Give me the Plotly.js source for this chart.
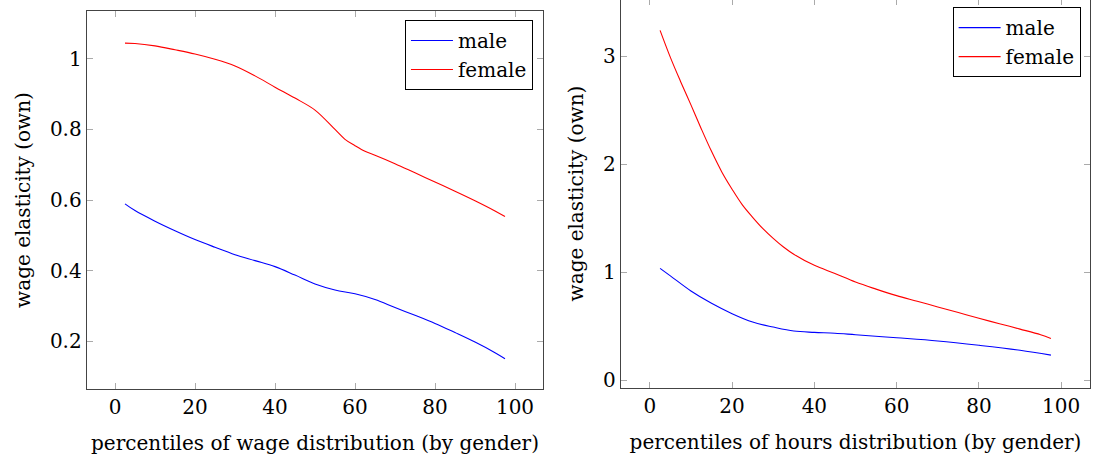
<!DOCTYPE html>
<html>
<head>
<meta charset="utf-8">
<script src="https://cdn.plot.ly/plotly-3.0.1.min.js"></script>
<style>
  html, body { margin: 0; padding: 0; background: #fff; }
  body { width: 1094px; height: 461px; position: relative; overflow: hidden; }
  #left { position: absolute; left: 0; top: 0; width: 550px; height: 461px; }
  #right { position: absolute; left: 550px; top: -1px; width: 544px; height: 462px; }
</style>
</head>
<body>
<div id="left"></div>
<div id="right"></div>
<script>
// ---- Left chart: wage distribution ----
const wageMaleX = [2.5, 5, 10, 15, 20, 25, 30, 35, 40, 45, 50, 55, 60, 65, 70, 75, 80, 85, 90, 95, 97.5];
const wageMaleY = [0.589, 0.570, 0.540, 0.513, 0.488, 0.466, 0.445, 0.428, 0.411, 0.387, 0.362, 0.345, 0.334, 0.318, 0.295, 0.273, 0.250, 0.224, 0.197, 0.167, 0.150];
const wageFemaleX = [2.5, 5, 10, 15, 20, 25, 30, 35, 40, 45, 50, 55, 57.5, 60, 62.5, 65, 70, 75, 80, 85, 90, 95, 97.5];
const wageFemaleY = [1.045, 1.044, 1.037, 1.026, 1.014, 0.999, 0.980, 0.952, 0.920, 0.889, 0.855, 0.800, 0.772, 0.754, 0.738, 0.727, 0.703, 0.677, 0.651, 0.625, 0.598, 0.569, 0.553];

// ---- Right chart: hours distribution ----
const hoursMaleX = [2.5, 5, 10, 15, 20, 25, 30, 35, 40, 45, 50, 60, 70, 80, 90, 97.5];
const hoursMaleY = [1.037, 0.968, 0.828, 0.714, 0.618, 0.540, 0.494, 0.457, 0.445, 0.437, 0.423, 0.395, 0.365, 0.325, 0.279, 0.234];
const hoursFemaleX = [2.5, 5, 7.5, 10, 12.5, 15, 17.5, 20, 22.5, 25, 27.5, 30, 32.5, 35, 40, 45, 50, 55, 60, 65, 70, 75, 80, 85, 90, 95, 97.5];
const hoursFemaleY = [3.24, 2.99, 2.765, 2.55, 2.33, 2.12, 1.93, 1.77, 1.625, 1.51, 1.405, 1.315, 1.235, 1.168, 1.065, 0.99, 0.91, 0.845, 0.785, 0.733, 0.68, 0.628, 0.575, 0.525, 0.475, 0.423, 0.389];

// ---- Tick labels ----
const xTickVals = [0, 20, 40, 60, 80, 100];
const xTickText = ["0", "20", "40", "60", "80", "100"];
const wageYTickVals = [0.2, 0.4, 0.6, 0.8, 1];
const wageYTickText = ["0.2", "0.4", "0.6", "0.8", "1"];
const hoursYTickVals = [0, 1, 2, 3];
const hoursYTickText = ["0", "1", "2", "3"];

const seriesNames = ["male", "female"];
const FONT = "DejaVu Serif";
const FS = 20;

function axisBase() {
  return {
    showline: true, linecolor: "#444", linewidth: 1.3, mirror: "ticks",
    ticks: "inside", ticklen: 6, tickcolor: "#aaa", tickwidth: 1,
    showgrid: false, zeroline: false,
    tickfont: { family: FONT, size: FS, color: "#000" },
    automargin: false
  };
}

function makeTraces(mx, my, fx, fy) {
  return [
    { x: mx, y: my, type: "scatter", mode: "lines", name: seriesNames[0],
      line: { color: "#0000ff", width: 1.1, shape: "spline", smoothing: 1 } },
    { x: fx, y: fy, type: "scatter", mode: "lines", name: seriesNames[1],
      line: { color: "#ff0000", width: 1.1, shape: "spline", smoothing: 1 } }
  ];
}

function legendAt(x, y) {
  return {
    x: x, y: y, xanchor: "right", yanchor: "top",
    bgcolor: "#fff", bordercolor: "#000", borderwidth: 1,
    itemwidth: 42,
    font: { family: FONT, size: FS, color: "#000" }
  };
}

const leftLayout = {
  width: 550, height: 461,
  margin: { l: 87, r: 7, t: 11, b: 72 },
  paper_bgcolor: "#fff", plot_bgcolor: "#fff",
  font: { family: FONT, size: FS, color: "#000" },
  xaxis: Object.assign(axisBase(), {
    range: [-7, 107], tickvals: xTickVals, ticktext: xTickText,
    title: { text: "percentiles of wage distribution (by gender)", font: { family: FONT, size: FS }, standoff: 17 }
  }),
  yaxis: Object.assign(axisBase(), {
    range: [0.064, 1.136], tickvals: wageYTickVals, ticktext: wageYTickText,
    title: { text: "wage elasticity (own)", font: { family: FONT, size: FS }, standoff: 14 }
  }),
  showlegend: true,
  legend: legendAt(0.978, 0.976)
};

const rightLayout = {
  width: 544, height: 462,
  margin: { l: 71, r: 4, t: 0, b: 73 },
  paper_bgcolor: "rgba(0,0,0,0)", plot_bgcolor: "#fff",
  font: { family: FONT, size: FS, color: "#000" },
  xaxis: Object.assign(axisBase(), {
    range: [-7, 107], tickvals: xTickVals, ticktext: xTickText,
    title: { text: "percentiles of hours distribution (by gender)", font: { family: FONT, size: FS }, standoff: 17 }
  }),
  yaxis: Object.assign(axisBase(), {
    range: [-0.07, 3.53], tickvals: hoursYTickVals, ticktext: hoursYTickText,
    title: { text: "wage elasticity (own)", font: { family: FONT, size: FS }, standoff: 14 }
  }),
  showlegend: true,
  legend: legendAt(0.980, 0.979)
};

const cfg = { staticPlot: true, displayModeBar: false };
Plotly.newPlot("left", makeTraces(wageMaleX, wageMaleY, wageFemaleX, wageFemaleY), leftLayout, cfg);
Plotly.newPlot("right", makeTraces(hoursMaleX, hoursMaleY, hoursFemaleX, hoursFemaleY), rightLayout, cfg);
</script>
</body>
</html>
